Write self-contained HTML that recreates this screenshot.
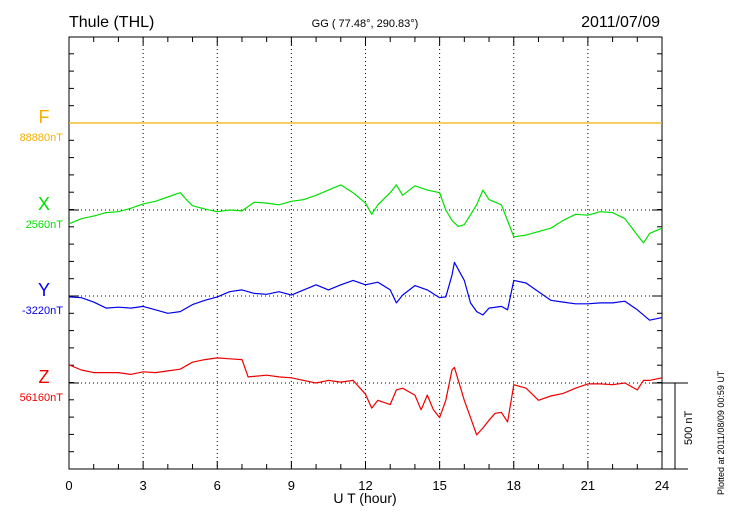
<!DOCTYPE html>
<html><head><meta charset="utf-8"><style>
body{margin:0;background:#fff;width:730px;height:520px;overflow:hidden;font-family:"Liberation Sans",sans-serif}
svg{display:block}
</style></head><body>
<svg id="chart" width="730" height="520" font-family="Liberation Sans, sans-serif">
<text x="69" y="27" font-size="16">Thule (THL)</text>
<text x="365" y="27" font-size="11" text-anchor="middle">GG ( 77.48°, 290.83°)</text>
<text x="660" y="27" font-size="16" text-anchor="end">2011/07/09</text>
<text x="365" y="503" font-size="14" text-anchor="middle">U T (hour)</text>
<text transform="translate(724,495) rotate(-90)" font-size="9">Plotted at 2011/08/09 00:59 UT</text>
<g id="grid"></g><g id="series"></g>
</svg>
<script>
const xTicks=[0,3,6,9,12,15,18,21,24];
const comps=["F","X","Y","Z"];
const baseLabels=["88880nT","2560nT","-3220nT","56160nT"];
const colors=["#f5b000","#00e000","#0000ee","#ee0000"];
const xHours=[0,.5,1,1.5,2,2.5,3,3.5,4,4.5,4.75,5,5.5,6,6.5,7,7.5,8,8.5,9,9.5,10,10.5,11,11.5,12,12.25,12.5,13,13.25,13.5,14,14.5,15,15.25,15.5,15.75,16,16.5,16.75,17,17.5,18,18.5,19,19.5,20,20.5,21,21.5,22,22.5,23,23.25,23.5,24];
const xValues=[-80,-50,-35,-15,-10,10,35,50,75,100,60,25,5,-10,0,-5,45,40,30,50,60,85,115,145,100,40,-25,30,100,145,85,140,115,100,0,-60,-95,-85,30,115,60,30,-155,-145,-125,-105,-60,-25,-30,-10,-15,-50,-145,-190,-135,-105];
const yHours=[0,.5,1,1.5,2,2.5,3,3.5,4,4.5,5,5.5,6,6.5,7,7.5,8,8.5,9,9.5,10,10.5,11,11.5,12,12.5,13,13.25,13.5,14,14.5,15,15.25,15.5,15.6,16,16.25,16.5,16.75,17,17.5,17.75,18,18.5,19,19.5,20,20.5,21,21.5,22,22.5,23,23.5,24];
const yValues=[-5,-10,-35,-70,-65,-70,-60,-80,-100,-90,-50,-25,-5,25,35,15,10,25,5,35,65,35,65,90,65,80,35,-40,5,60,35,-10,-5,120,195,90,-40,-90,-110,-70,-60,-80,90,75,25,-25,-35,-45,-45,-40,-40,-30,-80,-140,-125];
const zHours=[0,.5,1,1.5,2,2.5,3,3.5,4,4.5,5,5.5,6,6.5,7,7.25,8,8.5,9,9.5,10,10.5,11,11.5,12,12.25,12.5,13,13.25,13.5,14,14.25,14.5,14.75,15,15.25,15.5,15.6,16,16.25,16.5,16.75,17,17.25,17.5,17.75,18,18.5,19,19.5,20,20.5,21,21.5,22,22.5,23,23.25,23.5,24];
const zValues=[105,75,60,60,60,50,65,60,70,80,120,135,145,140,135,35,45,35,30,15,0,15,5,15,-65,-145,-100,-125,-40,-30,-70,-155,-70,-155,-200,-100,75,90,-100,-200,-300,-260,-215,-175,-170,-225,-10,-30,-100,-75,-60,-30,-5,-5,-10,0,-40,15,15,30];
const fHours=[0,24];
const fValues=[0,0];

const L=69,R=662,T=37,B=469,base=[123,210,296,383],pxPerNT=86.5/500;
const sx=h=>L+(R-L)*h/24;
const sy=(i,v)=>base[i]-v*pxPerNT;
const NS="http://www.w3.org/2000/svg";
function mk(tag,at,parent){const e=document.createElementNS(NS,tag);for(const k in at)e.setAttribute(k,at[k]);parent.appendChild(e);return e;}
const g=document.getElementById('grid'),s=document.getElementById('series');
xTicks.forEach(h=>{
 if(h>0&&h<24){const l=mk('line',{x1:sx(h),x2:sx(h),y1:T,y2:B,stroke:'#000','stroke-dasharray':'1,3','stroke-width':1},g);
 
 }
 const t=mk('text',{x:sx(h),y:490,'font-size':13,'text-anchor':'middle'},g);t.textContent=h;
 
 
});
for(let h=0;h<=24;h++){const len=h%3==0?8:5;
 mk('line',{x1:sx(h),x2:sx(h),y1:T,y2:T+len,stroke:'#000'},g);
 mk('line',{x1:sx(h),x2:sx(h),y1:B,y2:B-len,stroke:'#000'},g);}
for(let y=B;y>=T;y-=pxPerNT*100){
 mk('line',{x1:L,x2:L+5,y1:y,y2:y,stroke:'#000'},g);
 mk('line',{x1:R,x2:R-5,y1:y,y2:y,stroke:'#000'},g);}
base.forEach((b,i)=>{
 const l=mk('line',{x1:L,x2:R,y1:b,y2:b,stroke:'#000','stroke-dasharray':'1,3'},g);
 
 
 mk('line',{x1:L,x2:L+10,y1:b,y2:b,stroke:'#000'},g);
 mk('line',{x1:R-10,x2:R,y1:b,y2:b,stroke:'#000'},g);
 const c=mk('text',{x:44,y:b,'font-size':18,'text-anchor':'middle',fill:colors[i]},g);c.textContent=comps[i];
 
 
 const t=mk('text',{x:63,y:b+18,'font-size':11,'text-anchor':'end',fill:colors[i]},g);t.textContent=baseLabels[i];
 
 
});
const fr=mk('rect',{x:L,y:T,width:R-L,height:B-T,fill:'none',stroke:'#000'},g);


mk('line',{x1:R,x2:688,y1:383,y2:383,stroke:'#000'},g);
mk('line',{x1:R,x2:688,y1:B,y2:B,stroke:'#000'},g);
const sb=mk('line',{x1:675,x2:675,y1:383,y2:B,stroke:'#000'},g);


const st=mk('text',{transform:'translate(692,445) rotate(-90)','font-size':11},g);st.textContent='500 nT';


const sets=[[fHours,fValues],[xHours,xValues],[yHours,yValues],[zHours,zValues]];
sets.forEach(([hs,vs],i)=>{
 const d=hs.map((h,j)=>(j?'L':'M')+sx(h).toFixed(1)+','+sy(i,vs[j]).toFixed(1)).join('');
 const p=mk('path',{d:d,fill:'none',stroke:colors[i],'stroke-width':1.2,'stroke-linejoin':'round'},s);
 
 
});
</script>
</body></html>
